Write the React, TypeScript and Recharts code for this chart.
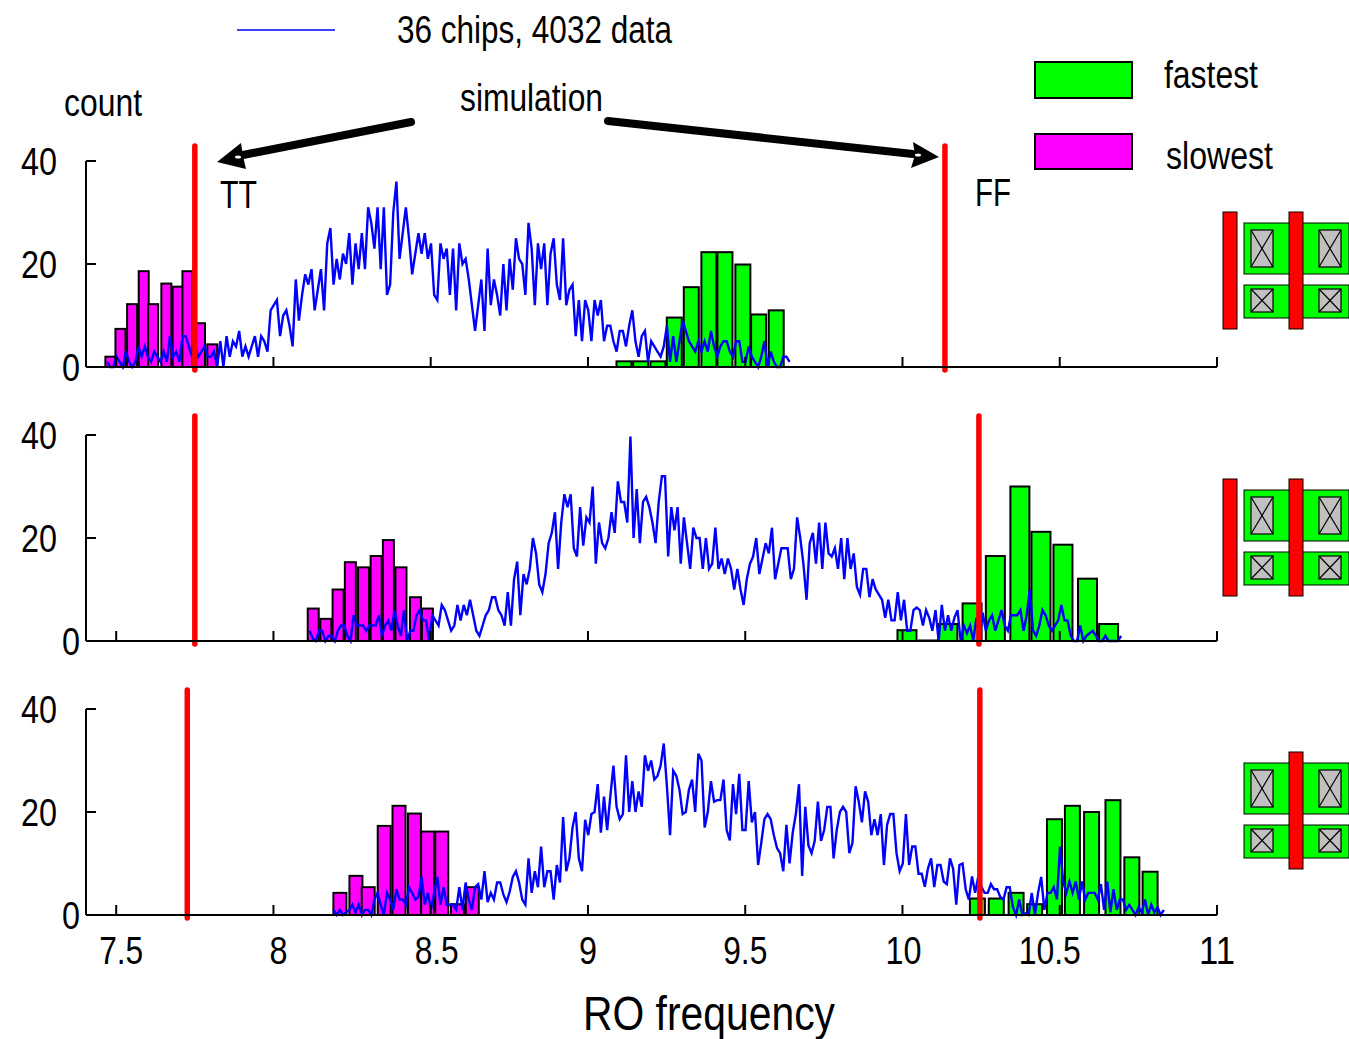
import React from 'react';
import { ComposedChart, Bar, Line, XAxis, YAxis, ReferenceLine } from 'recharts';

const xTicks = [7.5, 8, 8.5, 9, 9.5, 10, 10.5, 11];
const xLabelNudge = [5, 5, 6, 0, 0, 1, -10, 0];
const yTicks = [0, 20, 40];
const binStep = 0.01;

// panel 1
const slowX1 = [7.483, 7.515, 7.552, 7.589, 7.619, 7.661, 7.697, 7.728, 7.768, 7.807];
const slowCount1 = [2, 7.4, 12.2, 18.6, 12.2, 16.2, 15.6, 18.6, 8.5, 4.4];
const fastX1 = [9.116, 9.169, 9.224, 9.276, 9.33, 9.386, 9.437, 9.494, 9.544, 9.6];
const fastCount1 = [1.1, 1.1, 1.1, 9.6, 15.5, 22.3, 22.3, 19.9, 10.2, 11];
const simStart1 = 7.471;
const sim1 = [
  1, 0, 0, 2, 1, 0, 3, 1, 0, 1, 4, 2, 4, 2, 1, 3, 2, 1, 3, 1,
  6, 2, 3, 1, 6, 6, 4, 2, 4, 2, 3, 4, 2, 2, 3, 0, 5, 0, 6, 2,
  5, 4, 7, 2, 4, 2, 4, 6, 2, 6, 5, 3, 11, 12, 13, 6, 10, 11, 8, 4,
  17, 9, 14, 18, 16, 19, 11, 15, 19, 11, 24, 27, 16, 21, 17, 22, 20, 26, 16, 24,
  19, 26, 19, 31, 28, 23, 31, 19, 31, 14, 16, 30, 36, 21, 26, 31, 25, 18, 22, 26,
  22, 26, 21, 24, 14, 13, 24, 21, 23, 14, 23, 11, 24, 20, 21, 17, 12, 7, 12, 17,
  7, 23, 12, 17, 14, 10, 20, 11, 21, 15, 25, 21, 20, 14, 28, 23, 12, 24, 19, 24,
  12, 22, 25, 16, 13, 25, 12, 15, 16, 6, 13, 5, 13, 11, 5, 13, 10, 13, 5, 8,
  8, 5, 3, 7, 7, 4, 8, 11, 5, 2, 6, 7, 1, 5, 4, 3, 2, 4, 8, 1,
  6, 1, 5, 9, 7, 5, 4, 3, 5, 3, 5, 3, 7, 4, 2, 4, 5, 5, 3, 2,
  5, 5, 1, 1, 4, 2, 1, 0, 2, 5, 0, 3, 1, 0, 0, 2, 2, 1,
];

// panel 2
const slowX2 = [8.128, 8.168, 8.207, 8.246, 8.288, 8.328, 8.367, 8.407, 8.453, 8.491];
const slowCount2 = [6.3, 4.3, 10, 15.3, 14.3, 16.5, 19.6, 14.3, 8.5, 6.3];
const fastX2 = [10.013, 10.081, 10.143, 10.22, 10.294, 10.372, 10.439, 10.509, 10.587, 10.654];
const fastCount2 = [2.1, 0.1, 3.3, 7.3, 16.5, 30, 21.2, 18.7, 12.1, 3.3];
const simStart2 = 8.115;
const sim2 = [
  2, 0.5, 0, 2, 2, 0, 1, 1, 0, 2, 3, 3, 1, 0, 5, 3, 3, 3, 2, 3,
  3, 3, 5, 1, 3, 4, 2, 6, 3, 1, 6, 0, 2, 2, 5, 6, 4, 4, 0, 5,
  4, 3, 7, 6, 4, 2, 3, 7, 4, 7, 5, 8, 5, 2, 1, 3, 5, 6, 8.5, 8.5,
  6, 5, 3, 9.5, 3, 12, 15.4, 5, 13, 11, 14, 20, 17, 11, 9.5, 13, 19, 21, 25, 14,
  23, 28.5, 26, 28.5, 18, 16.4, 26, 18.5, 24, 23, 30, 15, 23, 19, 18, 20, 25, 21, 31, 27,
  27, 23, 39.7, 20, 29.5, 19, 27, 28, 26, 23, 19, 27, 32, 32, 16.4, 26, 21.5, 26, 15, 24,
  19, 14, 22, 20, 20, 14, 20, 14, 15, 22, 14, 16, 13, 16, 14, 10, 14, 10, 7, 12,
  15, 16.4, 20, 13, 16, 19, 17, 22, 12, 15, 18, 18, 18, 12, 14, 24, 20, 15, 8, 19,
  21, 15, 23, 14, 23, 17, 16.4, 18, 14, 20, 12, 20, 14, 17, 10.5, 9, 14, 14, 8.5, 12,
  10, 9, 8, 4.5, 8, 4, 4, 9.5, 4, 8, 2, 2, 6, 6.5, 6, 3, 6, 4.5, 2, 6,
  0, 7, 2, 5, 2, 4.5, 6, 0, 3, 1.5, 3, 0, 4.5, 0, 5.5, 2, 4, 5, 2, 4,
  6, 3, 2, 5, 5, 5, 6, 2, 5, 10, 2, 1, 3, 6, 5, 3, 2, 3, 4, 7,
  4, 4, 1, 0, 0, 3, 0, 1, 1.5, 2, 1, 0, 0, 1, 0, 0, 0, 0, 1,
];

// panel 3
const slowX3 = [8.21, 8.261, 8.3, 8.351, 8.398, 8.447, 8.489, 8.534, 8.584, 8.631];
const slowCount3 = [4.3, 7.6, 5.4, 17.3, 21.2, 19.7, 16.2, 16.2, 2.1, 5.4];
const fastX3 = [10.237, 10.297, 10.36, 10.419, 10.482, 10.539, 10.6, 10.668, 10.728, 10.786];
const fastCount3 = [3.2, 3.2, 4.3, 2.1, 18.6, 21.2, 20, 22.3, 11.2, 8.4];
const simStart3 = 8.191;
const sim3 = [
  1, 0, 1, 0, 0.5, 1, 2, 0.5, 2, 0, 1, 1, 0, 3, 4.3, 2, 0, 4.3, 3, 1,
  5, 3, 3, 2, 5.4, 4.3, 3, 3.5, 7.4, 2, 4.3, 1, 4.3, 7.4, 2, 5.4, 2, 2, 2, 1,
  5.4, 1, 6.3, 3, 1, 5.4, 6, 3, 8.5, 2.5, 4.3, 3, 6.3, 6.3, 4, 2.5, 4.5, 7.4, 8.5, 6.3,
  3, 2, 11, 4.3, 8.5, 5.4, 13.3, 5.4, 8.5, 8.5, 3, 9.7, 6.3, 19, 8.5, 11, 17, 20, 11, 8.5,
  18.5, 15.5, 19.6, 20, 25.4, 16, 23, 16.5, 23, 29, 21, 18.6, 19.6, 31, 20, 26, 20, 24, 21, 31,
  28, 30, 26.3, 27, 29, 33.3, 25, 15.5, 28, 27, 24.3, 19.6, 20, 24.3, 26.3, 20, 31.3, 30, 17, 20,
  26, 22, 22.3, 22.3, 26.3, 16.5, 14.5, 25.4, 19.6, 27.4, 16.5, 16.5, 26, 18, 20, 9.7, 14, 18.6, 19.6, 18.6,
  15.5, 13, 12, 8.5, 17.5, 10, 16, 19.6, 25.4, 7.6, 21, 13.5, 12, 14.4, 22, 14.4, 16.5, 21, 21, 11,
  16.5, 20, 21, 20, 12, 14, 25, 22, 18, 24, 22, 15.5, 18.6, 15.5, 19.6, 9.7, 17.5, 19.6, 19.6, 12,
  8.5, 10, 19.6, 9.7, 13.3, 13.3, 8, 8, 5.5, 9, 11, 5.4, 9.7, 9.7, 6.5, 6, 11, 9, 2, 9.7,
  10, 5, 3, 7.5, 4.3, 7.5, 5.5, 4.3, 4.3, 6, 5, 5, 3.5, 3, 5.4, 5.4, 1.5, 0, 3, 0,
  0.3, 0, 4.3, 0, 4.3, 7.4, 1, 4.3, 4.3, 5.4, 3, 13.3, 6.5, 4.3, 6.5, 4.3, 6.5, 3, 6.5, 3,
  4.3, 4.3, 4.3, 3, 6, 1, 6.5, 0.5, 5, 1, 3, 3, 1, 2, 1, 0, 1.5, 0.5, 3, 0, 2, 0.5, 1.5, 0, 1,
];

const FONT = '"Liberation Sans", Arial, sans-serif';

const barRows = (slowX: number[], slow: number[], fastX: number[], fast: number[]) => [
  ...slowX.map((x, i) => ({ x, slowest: slow[i] })),
  ...fastX.map((x, i) => ({ x, fastest: fast[i] })),
];
const simRows = (start: number, vals: number[]) =>
  vals.map((sim, i) => ({ x: start + i * binStep, sim }));

// the text in the figure is a squeezed Arial
function Squeezed({ x, y, size, width, anchor = 'start', children }: any) {
  return (
    <text
      x={x}
      y={y}
      fontFamily={FONT}
      fontSize={size}
      textAnchor={anchor}
      fill="#000"
      textLength={width}
      lengthAdjust="spacingAndGlyphs"
    >
      {children}
    </text>
  );
}

const digitW = 18;
const XTick = ({ x, y, payload }: any) => {
  const s = String(payload.value);
  const w = (s.replace('.', '').length + (s.includes('.') ? 0.45 : 0)) * digitW;
  return <Squeezed x={x + xLabelNudge[xTicks.indexOf(payload.value)]} y={y} size={38} width={w} anchor="middle">{s}</Squeezed>;
};
const YTick = ({ x, y, payload }: any) => {
  const s = String(payload.value);
  // the zero sits closer to the axis than the other labels
  const nudge = payload.value === 0 ? 23 : 0;
  return <Squeezed x={x + nudge} y={y + 14} size={38} width={s.length * digitW} anchor="end">{s}</Squeezed>;
};

// recharts squeezes barSize to the smallest gap on a number axis, so draw the width here
const outlined = (barPx: number) => (props: any) => {
  const { x, y, width, height, value, fill } = props;
  const v = Array.isArray(value) ? value[1] - value[0] : value;
  if (v == null || Number.isNaN(v) || !height) return <g />;
  return <rect x={x + width / 2 - barPx / 2} y={y} width={barPx} height={height} fill={fill} stroke="#000" strokeWidth={2} />;
};

interface PanelProps {
  top: number;
  showLabels?: boolean;
  slowX: number[];
  slow: number[];
  fastX: number[];
  fast: number[];
  simStart: number;
  sim: number[];
  slowBar: number;
  fastBar: number;
  redLeft: number;
  redRight: number;
  redTop: number;
}

function Panel(p: PanelProps) {
  const h = p.showLabels ? 300 : 262;
  const axisH = p.showLabels ? 63 : 4;
  return (
    <div style={{ position: 'absolute', left: 0, top: p.top }}>
      <ComposedChart
        width={1349}
        height={h}
        data={barRows(p.slowX, p.slow, p.fastX, p.fast)}
        margin={{ top: 31, right: 132, bottom: h - 31 - 206 - axisH, left: 0 }}
      >
        <XAxis
          xAxisId="a"
          dataKey="x"
          type="number"
          domain={[7.404, 11]}
          ticks={xTicks}
          interval={0}
          height={axisH}
          axisLine={{ stroke: '#000', strokeWidth: 2 }}
          tickLine={{ stroke: '#000', strokeWidth: 2 }}
          tickSize={-10}
          tickMargin={p.showLabels ? 59 : 0}
          tick={p.showLabels ? XTick : () => <g />}
        />
        <XAxis xAxisId="b" dataKey="x" type="number" domain={[7.404, 11]} height={0} hide />
        <XAxis xAxisId="c" dataKey="x" type="number" domain={[7.404, 11]} height={0} hide />
        <YAxis
          domain={[0, 40]}
          ticks={yTicks}
          interval={0}
          width={86}
          axisLine={{ stroke: '#000', strokeWidth: 2 }}
          tickLine={{ stroke: '#000', strokeWidth: 2 }}
          tickSize={-10}
          tickMargin={39}
          tick={YTick}
        />
        <Bar xAxisId="a" dataKey="slowest" fill="#ff00ff" barSize={p.slowBar} shape={outlined(p.slowBar)} isAnimationActive={false} />
        <Bar xAxisId="b" dataKey="fastest" fill="#00ff00" barSize={p.fastBar} shape={outlined(p.fastBar)} isAnimationActive={false} />
        <Line
          xAxisId="c"
          data={simRows(p.simStart, p.sim)}
          dataKey="sim"
          stroke="#0000ff"
          strokeWidth={2.4}
          dot={false}
          isAnimationActive={false}
        />
        {[p.redLeft, p.redRight].map((rx) => (
          <ReferenceLine
            key={rx}
            xAxisId="a"
            segment={[{ x: rx, y: -0.6 }, { x: rx, y: p.redTop }]}
            stroke="#ff0000"
            strokeWidth={5.5}
            strokeLinecap="round"
            ifOverflow="visible"
          />
        ))}
      </ComposedChart>
    </div>
  );
}

function Transistor({ dy, leftGate }: { dy: number; leftGate: boolean }) {
  const contact = (x: number, y: number, w: number, h: number) => (
    <g key={`${x}-${y}`} stroke="#000" strokeWidth={1.2}>
      <rect x={x} y={y} width={w} height={h} fill="#c0c0c0" />
      <line x1={x} y1={y} x2={x + w} y2={y + h} />
      <line x1={x + w} y1={y} x2={x} y2={y + h} />
    </g>
  );
  return (
    <g transform={`translate(0 ${dy})`}>
      {leftGate && <rect x={1223} y={212} width={14} height={117} fill="#ff0000" stroke="#000" />}
      <rect x={1244} y={223} width={105} height={51} fill="#00ff00" stroke="#000" />
      <rect x={1244} y={285} width={105} height={33} fill="#00ff00" stroke="#000" />
      {contact(1251, 230, 22, 37)}
      {contact(1319, 230, 22, 37)}
      {contact(1251, 289, 22, 23)}
      {contact(1319, 289, 22, 23)}
      <rect x={1289} y={212} width={14} height={117} fill="#ff0000" stroke="#000" />
    </g>
  );
}

export default function App() {
  return (
    <div style={{ position: 'absolute', left: 0, top: 0, width: 1349, height: 1039, overflow: 'hidden', background: '#fff' }}>
      <Panel top={130} slowX={slowX1} slow={slowCount1} fastX={fastX1} fast={fastCount1} simStart={simStart1} sim={sim1} slowBar={10} fastBar={15} redLeft={7.75} redRight={10.135} redTop={42.9} />
      <Panel top={404} slowX={slowX2} slow={slowCount2} fastX={fastX2} fast={fastCount2} simStart={simStart2} sim={sim2} slowBar={11} fastBar={19} redLeft={7.75} redRight={10.243} redTop={43.7} />
      <Panel top={678} showLabels slowX={slowX3} slow={slowCount3} fastX={fastX3} fast={fastCount3} simStart={simStart3} sim={sim3} slowBar={13} fastBar={15} redLeft={7.726} redRight={10.246} redTop={43.7} />

      <svg width={1349} height={1039} style={{ position: 'absolute', left: 0, top: 0, pointerEvents: 'none' }}>
        <line x1={237} y1={30} x2={335} y2={30} stroke="#0000ff" strokeWidth={1.5} />
        <Squeezed x={397} y={43} size={38} width={275}>36 chips, 4032 data</Squeezed>
        <Squeezed x={460} y={111} size={38} width={143}>simulation</Squeezed>
        <Squeezed x={64} y={116} size={38} width={78}>count</Squeezed>
        <Squeezed x={220} y={208} size={38} width={37}>TT</Squeezed>
        <Squeezed x={975} y={206} size={38} width={36}>FF</Squeezed>
        <Squeezed x={1164} y={88} size={38} width={94}>fastest</Squeezed>
        <Squeezed x={1166} y={169} size={38} width={107}>slowest</Squeezed>
        <Squeezed x={583} y={1030} size={48} width={252}>RO frequency</Squeezed>

        <rect x={1035} y={62} width={97} height={36} fill="#00ff00" stroke="#000" strokeWidth={2} />
        <rect x={1035} y={134} width={97} height={35} fill="#ff00ff" stroke="#000" strokeWidth={2} />

        <line x1={411} y1={122} x2={243} y2={155} stroke="#000" strokeWidth={8} strokeLinecap="round" />
        <polygon points="217,162 241,143 243,156 246,169" fill="#000" />
        <ellipse cx={238} cy={157} rx={3} ry={1.5} fill="#fff" />
        <line x1={608} y1={121} x2={913} y2={154} stroke="#000" strokeWidth={8} strokeLinecap="round" />
        <polygon points="939,157 913,142 915,155 911,168" fill="#000" />
        <ellipse cx={918} cy={155} rx={3} ry={1.5} fill="#fff" />

        <Transistor dy={0} leftGate />
        <Transistor dy={267} leftGate />
        <Transistor dy={540} leftGate={false} />
      </svg>
    </div>
  );
}
